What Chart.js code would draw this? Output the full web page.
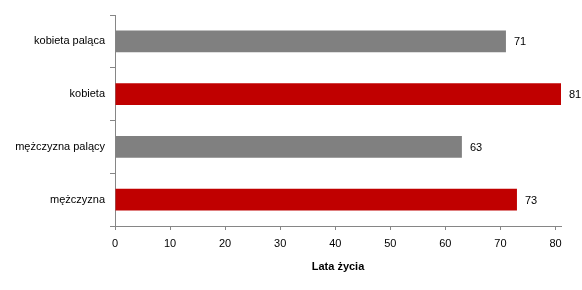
<!DOCTYPE html>
<html lang="pl">
<head>
<meta charset="UTF-8">
<title>Lata życia</title>
<script src="https://cdn.jsdelivr.net/npm/chart.js@4.4.7/dist/chart.umd.min.js"></script>
<style>
  * { margin: 0; padding: 0; box-sizing: border-box; }
  body { background: #fff; width: 582px; height: 290px; overflow: hidden; }
  .wrap { position: relative; width: 582px; height: 290px; }
</style>
</head>
<body>
<div class="wrap"><canvas id="chart"></canvas></div>
<script>
  const categories = ['kobieta paląca', 'kobieta', 'mężczyzna palący', 'mężczyzna'];
  const lifeYears = [71, 81, 63, 73];
  const xTicks = [0, 10, 20, 30, 40, 50, 60, 70, 80];
  const axisTitle = 'Lata życia';

  const FONT = "'Liberation Sans', Arial, sans-serif";
  const AXIS = '#868686';

  // wartości obok słupków
  const valueLabels = {
    id: 'valueLabels',
    afterDatasetsDraw(chart) {
      const ctx = chart.ctx;
      const meta = chart.getDatasetMeta(0);
      ctx.save();
      ctx.font = '11px ' + FONT;
      ctx.fillStyle = '#000';
      ctx.textAlign = 'left';
      ctx.textBaseline = 'middle';
      meta.data.forEach((bar, i) => {
        ctx.fillText(String(lifeYears[i]), bar.x + 8, bar.y + 1);
      });
      ctx.restore();
    }
  };

  new Chart(document.getElementById('chart'), {
    type: 'bar',
    data: {
      labels: categories,
      datasets: [{
        data: lifeYears,
        backgroundColor: ['#808080', '#C00000', '#808080', '#C00000'],
        borderWidth: 0,
        categoryPercentage: 1,
        barPercentage: 0.41
      }]
    },
    options: {
      indexAxis: 'y',
      responsive: true,
      maintainAspectRatio: false,
      animation: false,
      layout: { padding: { top: 15, right: 21, left: 0, bottom: 0 } },
      plugins: {
        legend: { display: false },
        tooltip: { enabled: false }
      },
      scales: {
        x: {
          min: 0,
          max: 81,
          afterBuildTicks: scale => { scale.ticks = xTicks.map(v => ({ value: v })); },
          afterFit: scale => { scale.height = 64; },
          ticks: { color: '#000', font: { family: FONT, size: 11 }, padding: 7 },
          grid: { drawOnChartArea: false, drawTicks: true, tickLength: 4, color: AXIS },
          border: { color: AXIS, width: 1 },
          title: {
            display: true,
            text: axisTitle,
            color: '#000',
            font: { family: FONT, size: 11, weight: 'bold' },
            padding: { top: 4, bottom: 16 }
          }
        },
        y: {
          afterFit: scale => { scale.width = 115; },
          ticks: { color: '#000', font: { family: FONT, size: 11 }, padding: 5 },
          grid: { drawOnChartArea: false, drawTicks: true, tickLength: 5, color: AXIS, offset: true },
          border: { color: AXIS, width: 1 }
        }
      }
    },
    plugins: [valueLabels]
  });
</script>
</body>
</html>
